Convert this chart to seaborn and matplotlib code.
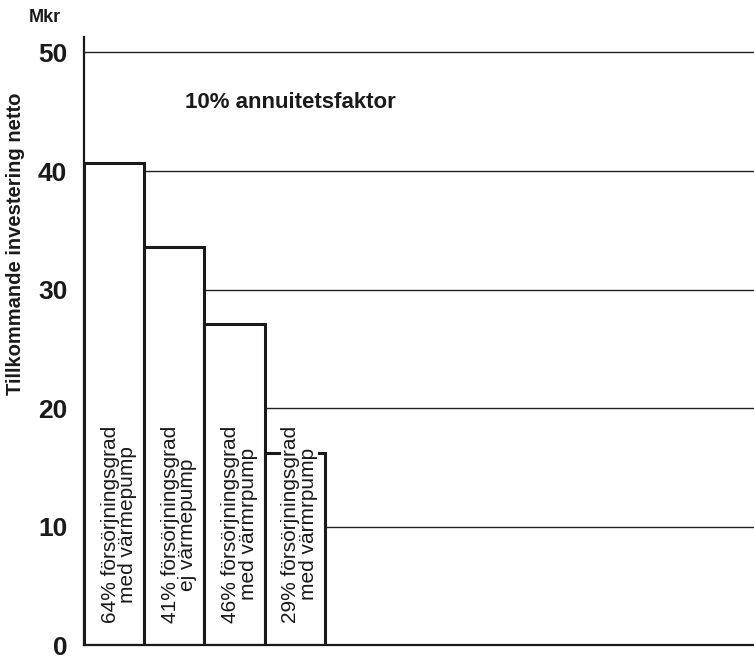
import matplotlib
matplotlib.use("Agg")
import matplotlib.pyplot as plt
import seaborn as sns
import pandas as pd

# Data
alternatives = ["A", "B", "C", "D"]
investment = [40.7, 33.6, 27.1, 16.2]
bar_labels = [
    "64% försörjningsgrad\nmed värmepump",
    "41% försörjningsgrad\nej värmepump",
    "46% försörjningsgrad\nmed värmrpump",
    "29% försörjningsgrad\nmed värmrpump",
]
y_ticks = [0, 10, 20, 30, 40, 50]

df = pd.DataFrame({"alt": alternatives, "inv": investment})

sns.set_style("white")
plt.rcParams["font.family"] = ["Liberation Sans", "DejaVu Sans"]

fig = plt.figure(figsize=(7.54, 6.6), dpi=100)
ax = fig.add_axes([0.1114, 0.022, 0.8886, 0.922])

# grid lines behind the white bars
for y in y_ticks[1:]:
    ax.axhline(y, color="#222222", lw=1.0, zorder=0)

sns.barplot(data=df, x="alt", y="inv", ax=ax, width=1.0, color="white",
            edgecolor="#1a1a1a", linewidth=2.2, zorder=2)

# labels sit on a white patch, so the short last bar's top edge is broken by its text
for i, lab in enumerate(bar_labels):
    ax.text(i + 0.08, 1.9, lab, rotation=90, ha="center", va="bottom",
            fontsize=15, linespacing=0.9, zorder=3, color="#1a1a1a",
            bbox=dict(facecolor="white", edgecolor="none", pad=0))

ax.set_xlim(-0.5, 10.62)
ax.set_ylim(0, 51.3)
ax.set_xticks([])
ax.set_yticks(y_ticks)
ax.set_yticklabels([str(t) for t in y_ticks], fontsize=19, fontweight="bold")
ax.tick_params(axis="y", direction="in", length=6, width=1, pad=12, colors="#1a1a1a")
ax.set_xlabel("")
ax.set_ylabel("")

for side in ["top", "right"]:
    ax.spines[side].set_visible(False)
ax.spines["left"].set_linewidth(1.6)
ax.spines["bottom"].set_linewidth(1.6)
ax.spines["left"].set_color("#1a1a1a")
ax.spines["bottom"].set_color("#1a1a1a")

fig.text(0.06, 1 - 18 / 660, "Mkr", fontsize=13, fontweight="bold",
         ha="center", va="center", color="#1a1a1a")
fig.text(0.02, 1 - 244 / 660, "Tillkommande investering netto", rotation=90,
         fontsize=14.5, fontweight="bold", ha="center", va="center", color="#1a1a1a")
ax.text(1.18, 45.8, "10% annuitetsfaktor", fontsize=16, fontweight="bold",
        ha="left", va="center", color="#1a1a1a")

fig.savefig("out.png", dpi=100)
